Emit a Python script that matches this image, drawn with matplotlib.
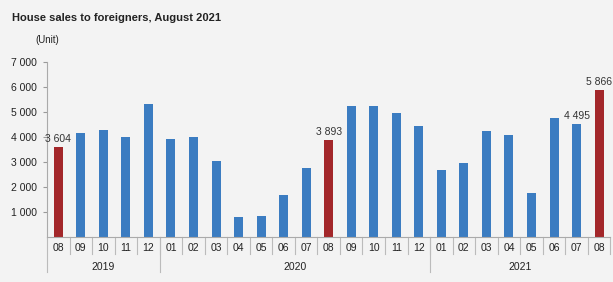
import numpy as np
import matplotlib.pyplot as plt

plt.rcParams['font.family'] = ['Liberation Sans', 'DejaVu Sans']

# Monthly house sales to foreigners (units)
months = ["08", "09", "10", "11", "12",
          "01", "02", "03", "04", "05", "06", "07", "08", "09", "10", "11", "12",
          "01", "02", "03", "04", "05", "06", "07", "08"]
years = ["2019", "2020", "2021"]
year_counts = [5, 12, 8]
sales = [3604, 4170, 4280, 3985, 5295,
         3920, 4010, 3025, 790, 840, 1670, 2750, 3893, 5250, 5250, 4950, 4415,
         2680, 2950, 4250, 4060, 1775, 4750, 4495, 5866]
highlight = [0, 12, 24]          # August bars shown in red
labelled = {0: "3 604", 12: "3 893", 23: "4 495", 24: "5 866"}

blue = "#3b7cc1"
red = "#a3272a"
bg = "#f3f3f3"

fig = plt.figure(figsize=(6.13, 2.82), dpi=100, facecolor=bg)
ax = fig.add_axes([0.0767, 0.16, 0.919, 0.6206], facecolor=bg)

x = np.arange(len(sales))
colors = [red if i in highlight else blue for i in x]
ax.bar(x, sales, width=0.4, color=colors, zorder=2)

for i, txt in labelled.items():
    ax.text(x[i], sales[i] + 120, txt, ha="center", va="bottom",
            fontsize=7.5, color="#333333")

ax.set_xlim(-0.5, len(sales) - 0.5)
ax.set_ylim(0, 7000)
ax.set_yticks([1000, 2000, 3000, 4000, 5000, 6000, 7000])
ax.set_yticklabels(["1 000", "2 000", "3 000", "4 000", "5 000", "6 000", "7 000"],
                   fontsize=7.5, color="#222222")
ax.tick_params(axis="y", length=3, color="#999999", pad=4)
ax.set_xticks([])

for s in ["top", "right"]:
    ax.spines[s].set_visible(False)
ax.spines["left"].set_color("#aaaaaa")
ax.spines["bottom"].set_color("#aaaaaa")
ax.spines["left"].set_linewidth(0.8)
ax.spines["bottom"].set_linewidth(0.8)

# month labels and separators under the axis
trans = ax.get_xaxis_transform()
for i, m in enumerate(months):
    ax.text(i, -0.065, m, transform=trans, ha="center", va="center",
            fontsize=7.5, color="#222222")
    ax.plot([i + 0.5, i + 0.5], [0, -0.10], transform=trans, color="#bbbbbb",
            lw=0.8, clip_on=False)

# year labels and longer separators
start = 0
for y, n in zip(years, year_counts):
    ax.plot([start - 0.5, start - 0.5], [0, -0.20], transform=trans,
            color="#bbbbbb", lw=0.8, clip_on=False)
    ax.text(start - 0.5 + n / 2, -0.17, y, transform=trans, ha="center",
            va="center", fontsize=7.5, color="#222222")
    start += n

fig.text(0.019, 0.935, "House sales to foreigners, August 2021", fontsize=8,
         fontweight="bold", color="#222222", va="center")
fig.text(0.057, 0.858, "(Unit)", fontsize=7, color="#222222", va="center")

fig.savefig("out.png", dpi=100, facecolor=bg)
